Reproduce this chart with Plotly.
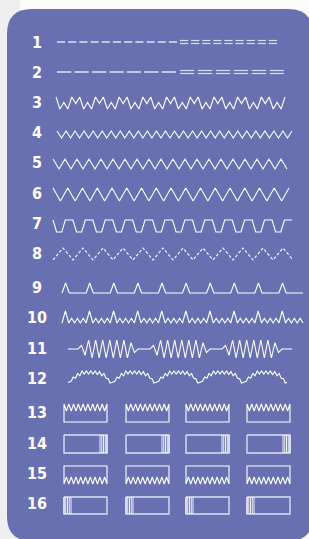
import plotly.graph_objects as go

# ---------------- data ----------------
stitch_numbers = [str(i) for i in range(1, 17)]

# rows 1-2: straight stitch dashes (single part / double part)
single_dash_counts = [11, 7]
double_dash_counts = [9, 6]

# repeat counts of the stitch units
row3_repeats = 9          # triple stretch zigzag (plus closing "W")
row4_repeats = 26         # narrow zigzag
row5_repeats = 19         # medium zigzag (plus a final half)
row6_repeats = 16         # wide zigzag
row7_repeats = 12         # trapezoid / overlock
row8_repeats = 12         # dotted zigzag
row9_repeats = 10         # blind hem
row10_repeats = 10        # stretch blind hem
row11_groups = 3          # groups of dense zigzag
row12_scallops = 5        # shell stitch
buttonhole_count = 4
buttonhole_teeth = 9
bartack_lines = 5

# unit shapes (u = fraction of period, v = 0 bottom .. 1 top)
zigzag_top_first = [(0.0, 1.0), (0.5, 0.0)]
zigzag_bottom_first = [(0.0, 0.0), (0.5, 1.0)]
triple_zigzag = [(0.0, 1.0), (1/6, 0.0), (2/6, 0.55), (3/6, 0.0), (4/6, 1.0), (5/6, 0.45)]
trapezoid = [(0.0, 1.0), (0.18, 0.0), (0.44, 0.0), (0.62, 1.0)]
blind_hem = [(0.0, 0.0), (0.15, 1.0), (0.3, 0.0)]
stretch_blind_hem = [(0.0, 0.0), (0.14, 1.0), (0.28, 0.0), (0.40, 0.4), (0.52, 0.0),
                     (0.64, 0.4), (0.76, 0.0), (0.88, 0.4)]
dense_group = [0, 0.4, -0.7, 1, -1, 1, -1, 1, -1, 1, -1, 1, -1, 1, -1, 0.7, -0.4, 0]
scallop = [(0.00, 0.05), (0.07, 0.15), (0.12, 0.5), (0.17, 0.4), (0.22, 0.8), (0.27, 0.6),
           (0.32, 1.0), (0.37, 0.75), (0.42, 1.0), (0.47, 0.75), (0.52, 1.0), (0.57, 0.75),
           (0.62, 1.0), (0.67, 0.7), (0.72, 0.95), (0.77, 0.6), (0.82, 0.8), (0.87, 0.4),
           (0.92, 0.35), (0.96, 0.0)]

# ---------------- layout geometry ----------------
W, H = 309, 539
label_x = 37
label_y = [43.5, 74, 104, 134, 164, 194.5, 225, 255, 289, 318.5, 349.5, 380,
           413.5, 444.5, 474.5, 505]
BG = "#6870B1"
WHITE = "#FFFFFF"
PALE = "#DCDFF3"

fig = go.Figure()


def add_line(xs, ys, color=WHITE, width=1.1, dash=None):
    fig.add_trace(go.Scatter(x=xs, y=ys, mode="lines", hoverinfo="skip",
                             line=dict(color=color, width=width, dash=dash),
                             showlegend=False))


def tile(unit, n, x0, period, y_top, y_bot, extra=0, close=None):
    xs, ys = [], []
    for k in range(n):
        for u, v in unit:
            xs.append(x0 + (k + u) * period)
            ys.append(y_bot - v * (y_bot - y_top))
    for u, v in unit[:extra]:
        xs.append(x0 + (n + u) * period)
        ys.append(y_bot - v * (y_bot - y_top))
    if close is not None:
        u, v = close
        xs.append(x0 + (n + u) * period)
        ys.append(y_bot - v * (y_bot - y_top))
    return xs, ys


def dashes(x0, x1, n, ys_list, frac):
    p = (x1 - x0) / (n - 1 + frac)
    xs, ys = [], []
    for y in ys_list:
        for k in range(n):
            a = x0 + k * p
            xs += [a, a + frac * p, None]
            ys += [y, y, None]
    return xs, ys


# row 1
xs, ys = dashes(57, 177, single_dash_counts[0], [42], 0.72)
add_line(xs, ys, width=1.2)
xs, ys = dashes(180, 277, double_dash_counts[0], [40.5, 43.5], 0.74)
add_line(xs, ys, color=PALE, width=1.2)
# row 2
xs, ys = dashes(57, 176, single_dash_counts[1], [72], 0.82)
add_line(xs, ys, width=1.2)
xs, ys = dashes(180, 284, double_dash_counts[1], [70.5, 73.5], 0.8)
add_line(xs, ys, color=PALE, width=1.2)

# row 3
seg = (285 - 56) / (row3_repeats * 6 + 4)
add_line(*tile(triple_zigzag, row3_repeats, 56, seg * 6, 97, 109, extra=5))
# row 4
add_line(*tile(zigzag_top_first, row4_repeats, 57, (292 - 57) / row4_repeats, 131, 138, close=(0, 1)))
# row 5
p5 = (287 - 53) / (row5_repeats + 0.5)
add_line(*tile(zigzag_top_first, row5_repeats, 53, p5, 159, 169, extra=2))
# row 6
add_line(*tile(zigzag_top_first, row6_repeats, 53, (289 - 53) / row6_repeats, 188, 201, close=(0, 1)))
# row 7
add_line(*tile(trapezoid, row7_repeats, 53, (292 - 53) / row7_repeats, 220, 232, close=(0, 1)))
# row 8
add_line(*tile(zigzag_bottom_first, row8_repeats, 53, (293 - 53) / row8_repeats, 248, 260, close=(0, 0)),
         dash="3px,2px")
# row 9
add_line(*tile(blind_hem, row9_repeats, 62, (303 - 62) / row9_repeats, 283, 293, close=(0, 0)))
# row 10
add_line(*tile(stretch_blind_hem, row10_repeats, 62, (303 - 62) / row10_repeats, 311, 323, close=(0, 0)))

# row 11
xs, ys = [68], [349]
g_start, g_width, g_period = 78, 60, 72
for g in range(row11_groups):
    a = g_start + g * g_period
    step = g_width / (len(dense_group) - 1)
    for i, v in enumerate(dense_group):
        xs.append(a + i * step)
        ys.append(349 - v * 9)
xs.append(292)
ys.append(349)
add_line(xs, ys)

# row 12
add_line(*tile(scallop, row12_scallops, 68, (287 - 68) / row12_scallops, 371, 383, close=(0, 0.05)))

# rows 13-16: buttonholes
hole_x = [64, 126, 186, 247]
hole_w = 43
rows_bh = [(404, 422), (435, 453), (466, 484), (497, 514)]
for i in range(buttonhole_count):
    x0 = hole_x[i]
    x1 = x0 + hole_w
    # 13: teeth on top
    top, bot = rows_bh[0]
    tx, ty = tile(zigzag_top_first, buttonhole_teeth, x0, hole_w / buttonhole_teeth, top, top + 7,
                  close=(0, 1))
    add_line([x1, x1, x0, x0] + tx[1:], [top, bot, bot, top] + ty[1:], width=1.1)
    # 14: bartack right
    top, bot = rows_bh[1]
    add_line([x0, x1, x1, x0, x0], [top, top, bot, bot, top], color=PALE, width=1.4)
    bx, by = [], []
    for k in range(bartack_lines):
        xx = x1 - 7 + k * 7 / (bartack_lines - 1)
        bx += [xx, xx, None]
        by += [top, bot, None]
    add_line(bx, by, color=WHITE, width=0.9)
    # 15: teeth on bottom
    top, bot = rows_bh[2]
    tx, ty = tile(zigzag_bottom_first, buttonhole_teeth, x0, hole_w / buttonhole_teeth, bot - 7, bot,
                  close=(0, 0))
    add_line([x1, x1, x0, x0] + tx[1:], [bot, top, top, bot] + ty[1:], width=1.1)
    # 16: bartack left
    top, bot = rows_bh[3]
    add_line([x0, x1, x1, x0, x0], [top, top, bot, bot, top], color=PALE, width=1.4)
    bx, by = [], []
    for k in range(bartack_lines):
        xx = x0 + k * 7 / (bartack_lines - 1)
        bx += [xx, xx, None]
        by += [top, bot, None]
    add_line(bx, by, color=WHITE, width=0.9)

# labels
fig.add_trace(go.Scatter(
    x=[label_x] * len(stitch_numbers), y=label_y, text=stitch_numbers, mode="text",
    textposition="middle center", hoverinfo="skip", showlegend=False,
    textfont=dict(family="DejaVu Sans Condensed, Liberation Sans Narrow, sans-serif",
                  size=16, color=WHITE, weight="bold")))

# background panel (rounded rectangle)
x0, x1, y0, y1, r = 7, 313, 9, 541, 25
path = (f"M {x0 + r},{y0} L {x1 - r},{y0} Q {x1},{y0} {x1},{y0 + r} "
        f"L {x1},{y1 - r} Q {x1},{y1} {x1 - r},{y1} L {x0 + r},{y1} Q {x0},{y1} {x0},{y1 - r} "
        f"L {x0},{y0 + r} Q {x0},{y0} {x0 + r},{y0} Z")
fig.add_shape(type="rect", x0=0, x1=20, y0=0, y1=H, xref="x", yref="y",
              fillcolor="#EFEFEF", line=dict(width=0), layer="below")
fig.add_shape(type="path", path=path, xref="x", yref="y", fillcolor=BG,
              line=dict(width=0), layer="below")

fig.update_layout(
    width=W, height=H, margin=dict(l=0, r=0, t=0, b=0),
    paper_bgcolor="#FBFBFB", plot_bgcolor="rgba(0,0,0,0)",
    xaxis=dict(range=[0, W], visible=False, fixedrange=True),
    yaxis=dict(range=[H, 0], visible=False, fixedrange=True),
    hovermode=False,
)

fig.write_html("out.html", config={"displayModeBar": False},
               post_script="document.body.style.margin='0';document.body.style.overflow='hidden';")
